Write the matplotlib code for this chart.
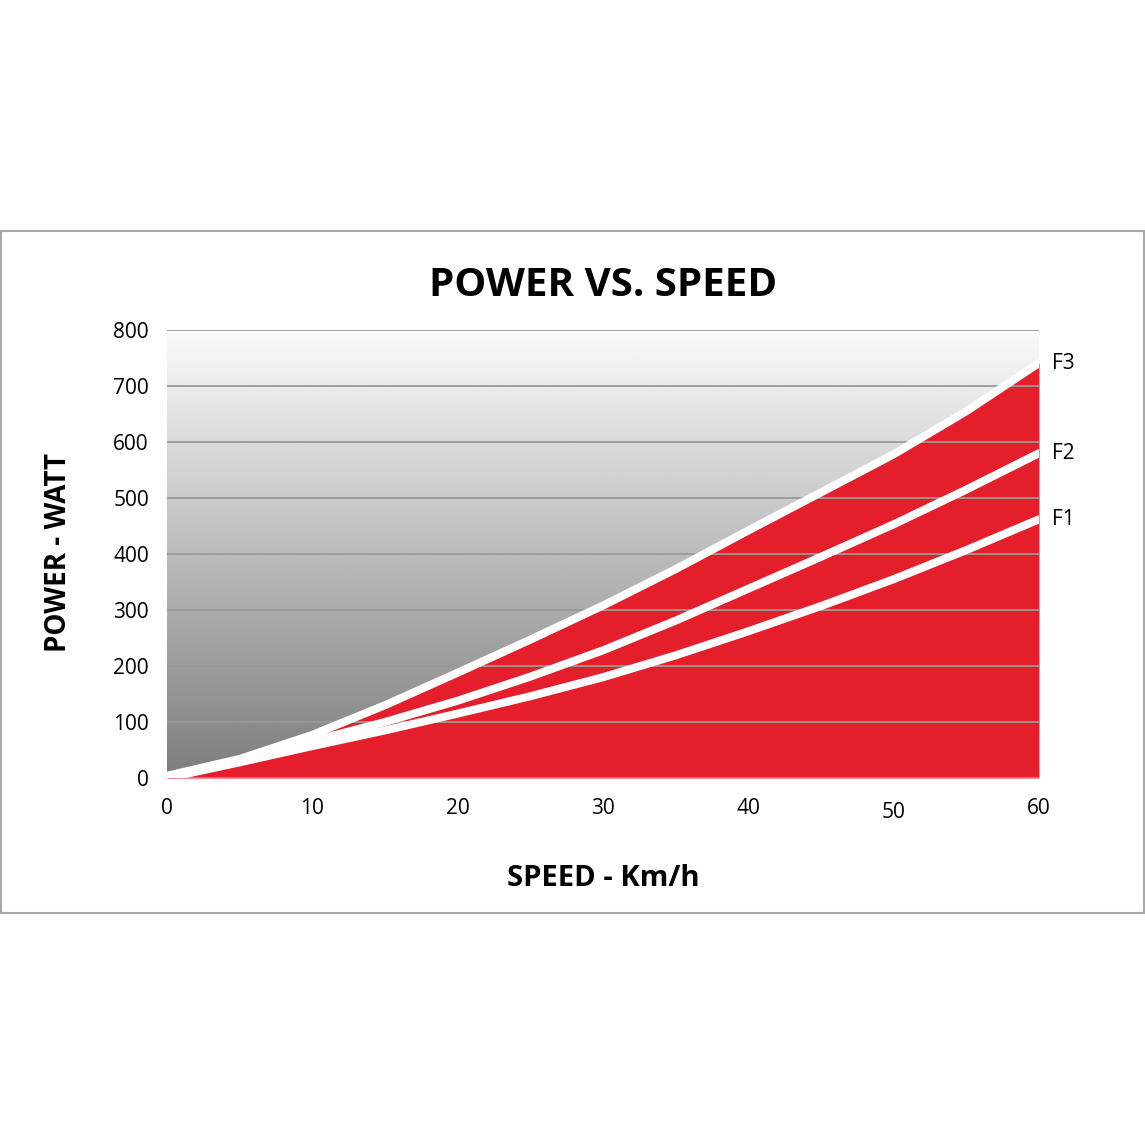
import numpy as np
import matplotlib.pyplot as plt
from matplotlib.patches import Rectangle

# data
speed = [0, 5, 10, 15, 20, 25, 30, 35, 40, 45, 50, 55, 60]
f1 = [0, 28, 57, 85, 115, 146, 180, 219, 262, 307, 355, 407, 462]
f2 = [0, 31, 66, 100, 138, 181, 228, 281, 338, 395, 453, 515, 580]
f3 = [4, 34, 77, 130, 188, 247, 308, 373, 442, 510, 578, 655, 741]
curve_names = ['F1', 'F2', 'F3']
x_ticks = [0, 10, 20, 30, 40, 50, 60]
y_ticks = [0, 100, 200, 300, 400, 500, 600, 700, 800]

font = 'Open Sans'
red = '#e41e2b'

fig = plt.figure(figsize=(11.45, 11.45), dpi=100)
fig.patches.append(Rectangle((0.001, 1 - 913 / 1145), 0.998, 682 / 1145,
                             transform=fig.transFigure, fill=False,
                             edgecolor='#a8a8a8', lw=1.5))

ax = fig.add_axes([167 / 1145, 1 - 778 / 1145, 872 / 1145, 448 / 1145])

# grey gradient background (light at top, dark at bottom)
grad = np.linspace(0.98, 0.49, 256).reshape(-1, 1)
ax.imshow(grad, cmap='gray', vmin=0, vmax=1, aspect='auto',
          extent=[0, 60, 0, 800], zorder=0, origin='upper')
ax.set_xlim(0, 60)
ax.set_ylim(0, 800)

# red area under F3
ax.fill_between(speed, 0, f3, color=red, lw=0, zorder=1)

# gridlines
for y in y_ticks:
    ax.axhline(y, color='#999999', lw=1.3, zorder=2)

# white curves
for vals in (f1, f2, f3):
    ax.plot(speed, vals, color='white', lw=5.8, solid_capstyle='round',
            solid_joinstyle='round', zorder=3)

for name, vals in zip(curve_names, (f1, f2, f3)):
    ax.text(60.9, vals[-1], name, fontsize=15, family=font, va='center', ha='left',
            clip_on=False)

for s in ax.spines.values():
    s.set_visible(False)
ax.set_xticks([])
ax.set_yticks(y_ticks)
ax.set_yticklabels([str(v) for v in y_ticks], fontsize=15, family=font)
ax.tick_params(axis='y', length=0, pad=13)

# x tick labels (the 50 sits a little lower in the original)
for v in x_ticks:
    off = 35 if v == 50 else 30
    ax.annotate(str(v), (v, 0), xytext=(0, -off), textcoords='offset pixels',
                ha='center', va='center', fontsize=15, family=font,
                annotation_clip=False)

fig.text(603 / 1145, 1 - 286 / 1145, 'POWER VS. SPEED', ha='center', va='center',
         fontsize=29, fontweight='bold', family=font)
fig.text(603 / 1145, 1 - 878 / 1145, 'SPEED - Km/h', ha='center', va='center',
         fontsize=21, fontweight='bold', family=font)
fig.text(58 / 1145, 1 - 553 / 1145, 'POWER - WATT', ha='center', va='center',
         rotation=90, fontsize=20, fontweight='bold', family=font)

fig.savefig('out.png', dpi=100, facecolor='white')
